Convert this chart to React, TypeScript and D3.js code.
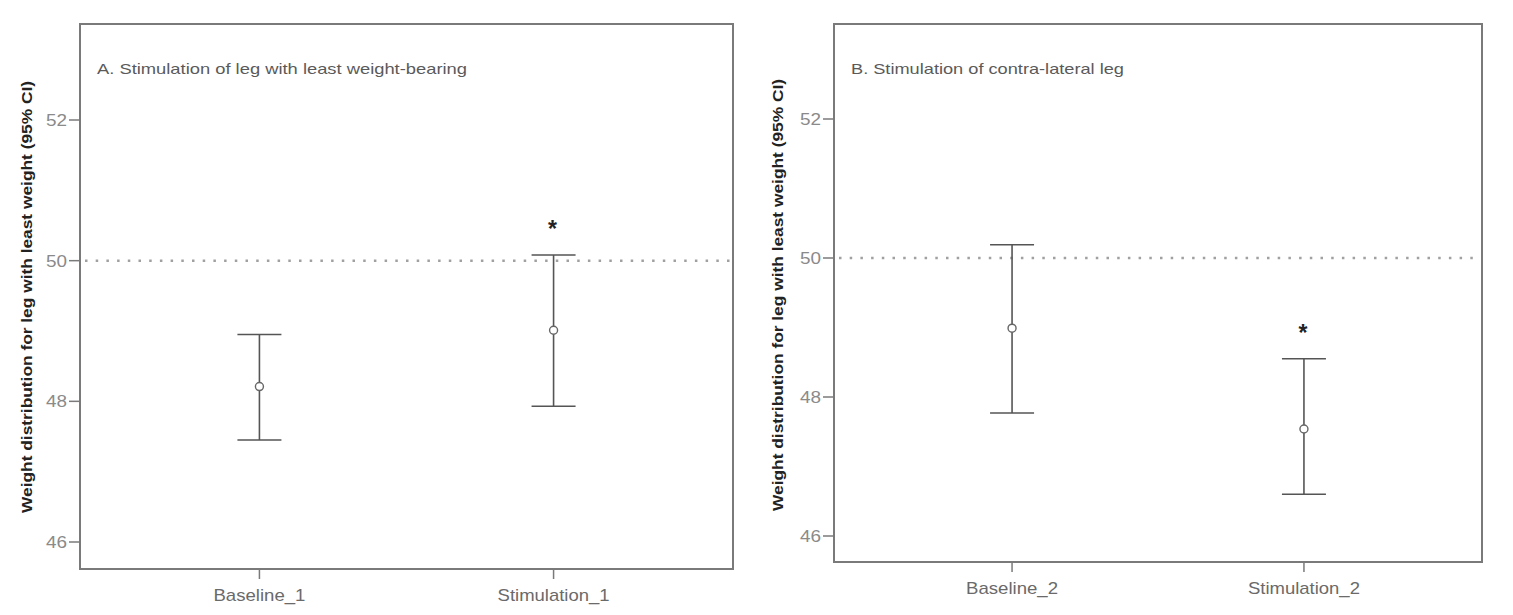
import React from "react";
import * as d3 from "d3";

const categoriesA = ["Baseline_1", "Stimulation_1"];
const meansA = [48.21, 49.01];
const lowerA = [47.45, 47.93];
const upperA = [48.95, 50.08];
const starA = [false, true];

const categoriesB = ["Baseline_2", "Stimulation_2"];
const meansB = [48.99, 47.54];
const lowerB = [47.77, 46.6];
const upperB = [50.19, 48.55];
const starB = [false, true];

const yTicks = [46, 48, 50, 52];
const refLine = 50;
const titleA = "A. Stimulation of leg with least weight-bearing";
const titleB = "B. Stimulation of contra-lateral leg";
const yTitle = "Weight distribution for leg with least weight (95% CI)";

const FONT = "Liberation Sans, Arial, sans-serif";

type PanelProps = {
  left: number; right: number; top: number; bottom: number;
  y46: number; y52: number;
  cats: string[]; means: number[]; lower: number[]; upper: number[]; stars: boolean[];
  title: string; titleLen: number; yTitleX: number; yTitleCY: number;
};

function Panel(p: PanelProps) {
  const y = d3.scaleLinear().domain([46, 52]).range([p.y46, p.y52]);
  const x = d3.scalePoint<string>().domain(p.cats).range([p.left, p.right]).padding(0.61);
  const frame = "#7a7a7a";
  const bar = "#555";
  return (
    <g>
      <text
        transform={`translate(${p.yTitleX},${p.yTitleCY}) rotate(-90)`}
        textAnchor="middle"
        fontFamily={FONT}
        fontWeight="bold"
        fontSize={14}
        fill="#222"
        textLength={432}
        lengthAdjust="spacingAndGlyphs"
      >
        {yTitle}
      </text>
      <rect x={p.left} y={p.top} width={p.right - p.left} height={p.bottom - p.top}
        fill="none" stroke={frame} strokeWidth={2} />
      {yTicks.map((t) => (
        <g key={t}>
          <line x1={p.left - 11} x2={p.left} y1={y(t)} y2={y(t)} stroke={frame} strokeWidth={1.5} />
          <text x={p.left - 13} y={y(t) + 6} textAnchor="end" fontFamily={FONT} fontSize={16}
            fill="#8a8a8a" textLength={21} lengthAdjust="spacingAndGlyphs">{t}</text>
        </g>
      ))}
      {p.cats.map((c) => (
        <g key={c}>
          <line x1={x(c)} x2={x(c)} y1={p.bottom} y2={p.bottom + 10} stroke={frame} strokeWidth={1.5} />
          <text x={x(c)} y={p.bottom + 32} textAnchor="middle" fontFamily={FONT} fontSize={17}
            fill="#6a6a6a" textLength={c.startsWith("B") ? 92 : 112} lengthAdjust="spacingAndGlyphs">{c}</text>
        </g>
      ))}
      <line x1={p.left + 5} x2={p.right - 2} y1={y(refLine)} y2={y(refLine)}
        stroke="#a0a0a0" strokeWidth={2.5} strokeDasharray="2.5 8.2" />
      <text x={p.left + 17} y={p.top + 50} fontFamily={FONT} fontSize={15} fill="#5a5a5a"
        textLength={p.titleLen} lengthAdjust="spacingAndGlyphs">{p.title}</text>
      {p.cats.map((c, i) => {
        const cx = x(c) as number;
        return (
          <g key={c}>
            <line x1={cx} x2={cx} y1={y(p.lower[i])} y2={y(p.upper[i])} stroke={bar} strokeWidth={1.6} />
            <line x1={cx - 22} x2={cx + 22} y1={y(p.upper[i])} y2={y(p.upper[i])} stroke={bar} strokeWidth={1.6} />
            <line x1={cx - 22} x2={cx + 22} y1={y(p.lower[i])} y2={y(p.lower[i])} stroke={bar} strokeWidth={1.6} />
            <circle cx={cx} cy={y(p.means[i])} r={4} fill="#fff" stroke="#666" strokeWidth={1.4} />
            {p.stars[i] && (
              <text x={cx - 1} y={y(p.upper[i]) - 18} textAnchor="middle" fontFamily={FONT}
                fontWeight="bold" fontSize={23} fill="#222">*</text>
            )}
          </g>
        );
      })}
    </g>
  );
}

export default function App() {
  return (
    <svg width={1513} height={615} style={{ display: "block", position: "absolute", left: 0, top: 0 }}>
      <rect x={0} y={0} width={1513} height={615} fill="#fff" />
      <Panel left={80} right={733} top={24} bottom={569} y46={542} y52={120}
        cats={categoriesA} means={meansA} lower={lowerA} upper={upperA} stars={starA}
        title={titleA} titleLen={370} yTitleX={32} yTitleCY={297} />
      <Panel left={834} right={1482} top={24} bottom={562} y46={536} y52={119}
        cats={categoriesB} means={meansB} lower={lowerB} upper={upperB} stars={starB}
        title={titleB} titleLen={273} yTitleX={783} yTitleCY={295} />
    </svg>
  );
}
